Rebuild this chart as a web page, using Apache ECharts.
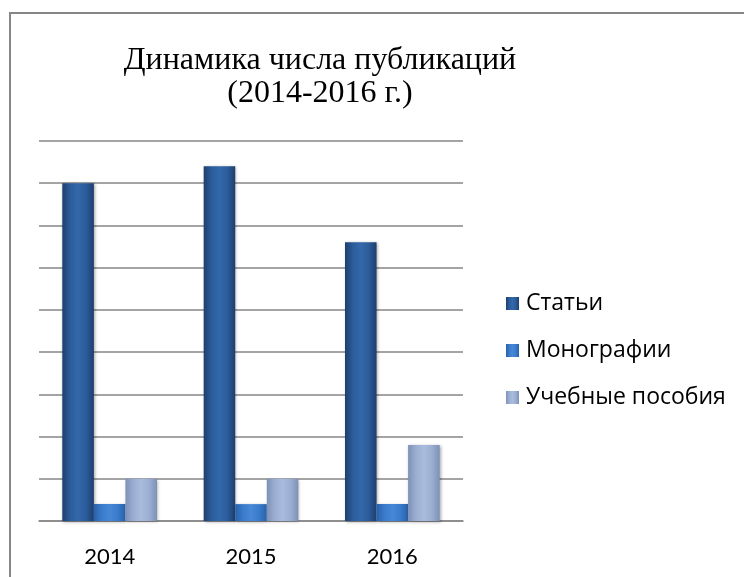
<!DOCTYPE html>
<html>
<head>
<meta charset="utf-8">
<script src="https://cdn.jsdelivr.net/npm/echarts@6/dist/echarts.min.js"></script>
<style>
  html, body { margin: 0; padding: 0; background: #fff; }
  #chart { width: 744px; height: 577px; }
</style>
</head>
<body>
<div id="chart"></div>
<script>
const years = ['2014', '2015', '2016']
const articles = [80, 84, 66]
const monographs = [4, 4, 4]
const textbooks = [10, 10, 18]

function hGrad(stops) {
  return new echarts.graphic.LinearGradient(0, 0, 1, 0, stops.map((c, i) => ({ offset: i / (stops.length - 1), color: c })))
}

const chart = echarts.init(document.getElementById('chart'))

const barShadow = { shadowBlur: 3, shadowColor: 'rgba(0,0,0,0.35)', shadowOffsetX: 1, shadowOffsetY: 1 }

chart.setOption({
  animation: false,
  backgroundColor: '#fff',
  graphic: [
    {
      type: 'rect', shape: { x: 10, y: 13, width: 800, height: 700 },
      style: { fill: 'none', stroke: '#868686', lineWidth: 2 }, silent: true
    },
    {
      type: 'text', x: 320, y: 44,
      style: {
        text: 'Динамика числа публикаций\n(2014-2016 г.)',
        font: '32px "Liberation Serif", "Times New Roman", serif',
        lineHeight: 33, align: 'center', fill: '#000'
      }
    }
  ],
  legend: {
    orient: 'vertical',
    left: 506,
    top: 292,
    padding: 0,
    itemWidth: 13,
    itemHeight: 13,
    itemGap: 24,
    icon: 'rect',
    textStyle: { fontFamily: 'Open Sans', fontSize: 23, color: '#000', padding: [0, 0, 0, 2] },
    data: ['Статьи', 'Монографии', 'Учебные пособия']
  },
  grid: { left: 39, right: 281, top: 141, bottom: 56 },
  xAxis: {
    type: 'category',
    data: years,
    axisLine: { show: true, lineStyle: { color: '#868686', width: 1.5 } },
    axisTick: { show: false },
    axisLabel: { fontFamily: 'Lato', fontSize: 22, color: '#000', margin: 25 }
  },
  yAxis: {
    type: 'value',
    min: 0, max: 90, interval: 10,
    axisLabel: { show: false },
    axisLine: { show: false },
    axisTick: { show: false },
    splitLine: { lineStyle: { color: '#868686', width: 1.5 } }
  },
  series: [
    {
      name: 'Статьи', type: 'bar', data: articles,
      barGap: '0%', barCategoryGap: '33%',
      itemStyle: Object.assign({ color: hGrad(['#1D3F6E', '#2C5C9B', '#3268AA', '#2C5C9B', '#1D3F6E']) }, barShadow)
    },
    {
      name: 'Монографии', type: 'bar', data: monographs,
      itemStyle: Object.assign({ color: hGrad(['#2A62AB', '#3A7BCB', '#4687D6', '#3A7BCB', '#2A62AB']) }, barShadow)
    },
    {
      name: 'Учебные пособия', type: 'bar', data: textbooks,
      itemStyle: Object.assign({ color: hGrad(['#7D91B8', '#9BAED2', '#AABCDD', '#9BAED2', '#7D91B8']) }, barShadow)
    }
  ]
})
</script>
</body>
</html>
